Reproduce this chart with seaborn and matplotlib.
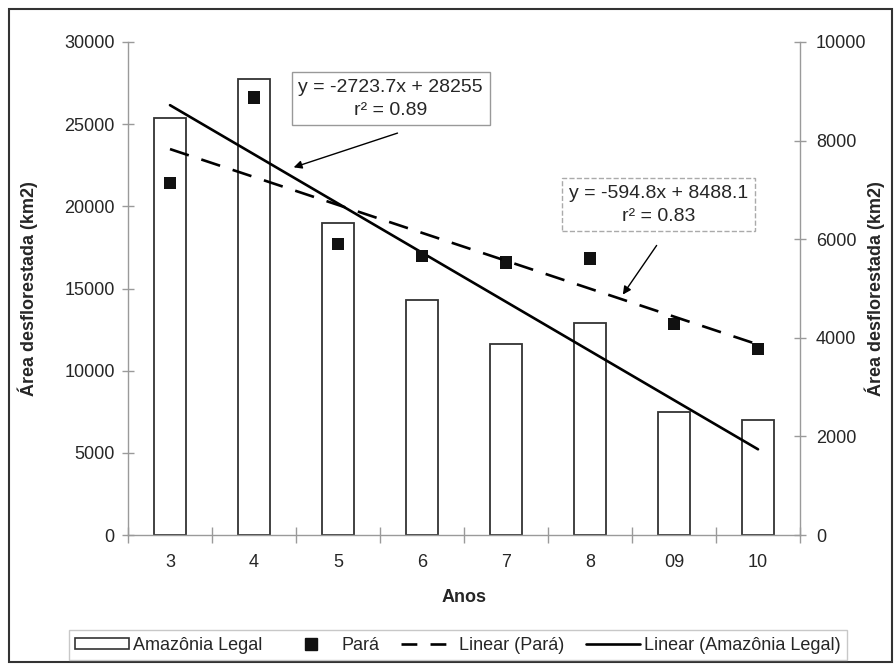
import matplotlib
matplotlib.use("Agg")
import matplotlib.pyplot as plt
import numpy as np
import seaborn as sns
from matplotlib.lines import Line2D
from matplotlib.patches import Patch, Rectangle

# Data
anos = ["3", "4", "5", "6", "7", "8", "09", "10"]
amazonia_legal = [25400, 27770, 19010, 14290, 11650, 12910, 7460, 7000]
para = [7145, 8870, 5900, 5660, 5530, 5610, 4280, 3770]

eq_amazonia = "y = -2723.7x + 28255\nr² = 0.89"
eq_para = "y = -594.8x + 8488.1\nr² = 0.83"

sns.set_style("white")
plt.rcParams["font.family"] = ["Liberation Sans", "DejaVu Sans"]

fig = plt.figure(figsize=(8.96, 6.68), dpi=100)
ax = fig.add_axes([128 / 896, 1 - 535 / 668, 672 / 896, 493 / 668])
ax2 = ax.twinx()

idx = np.arange(len(anos))
x_fit = idx + 1

# bars (left axis)
sns.barplot(x=anos, y=amazonia_legal, order=anos, color="white", edgecolor="#333333",
            linewidth=1.3, width=0.39, ax=ax)

# trend lines (least squares, as Excel trendlines)
fit_am = np.polyval(np.polyfit(x_fit, amazonia_legal, 1), x_fit)
fit_pa = np.polyval(np.polyfit(x_fit, para, 1), x_fit)
sns.lineplot(x=idx, y=fit_am, color="black", linewidth=1.9, ax=ax)
sns.lineplot(x=idx, y=fit_pa, color="black", linewidth=1.9, ax=ax2)
ax2.lines[-1].set_dashes((7.5, 5))

# Pará markers (right axis)
sns.scatterplot(x=idx, y=para, marker="s", s=80, color="#111111", edgecolor="none", ax=ax2)

ax.set_xlim(-0.5, len(anos) - 0.5)
ax.set_ylim(0, 30000)
ax.set_yticks(np.arange(0, 30001, 5000))
ax2.set_ylim(0, 10000)
ax2.set_yticks(np.arange(0, 10001, 2000))

for a in (ax, ax2):
    for s in a.spines.values():
        s.set_visible(False)
ax.spines["left"].set_visible(True)
ax.spines["bottom"].set_visible(True)
ax2.spines["right"].set_visible(True)
for s in (ax.spines["left"], ax.spines["bottom"], ax2.spines["right"]):
    s.set_color("#9a9a9a")
    s.set_linewidth(1.0)

ax.tick_params(axis="y", direction="inout", length=9, width=1, color="#9a9a9a",
               labelsize=13, pad=5, left=True)
ax2.tick_params(axis="y", direction="inout", length=9, width=1, color="#9a9a9a",
                labelsize=13, pad=7, right=True)
ax.set_xticks(idx)
ax.set_xticklabels(anos)
ax.set_xticks(np.arange(-0.5, len(anos), 1), minor=True)
ax.tick_params(axis="x", which="major", length=0, labelsize=13, pad=14)
ax.tick_params(axis="x", which="minor", direction="inout", length=12, width=1,
               color="#9a9a9a", bottom=True)

ax.set_xlabel("Anos", fontsize=13, fontweight="bold", labelpad=13)
ax.set_ylabel("Área desflorestada (km2)", fontsize=13, fontweight="bold")
ax2.set_ylabel("Área desflorestada (km2)", fontsize=13, fontweight="bold")
ax.yaxis.set_label_coords(-0.134, 0.5)
ax2.yaxis.set_label_coords(1.0967, 0.5)

# equation boxes with arrows
ax.text(0.391, 0.885, eq_amazonia, transform=ax.transAxes, ha="center", va="center",
        fontsize=14, linespacing=1.45,
        bbox=dict(boxstyle="square,pad=0.35", facecolor="white", edgecolor="#999999", lw=1))
ax.annotate("", xy=(0.2426, 0.744), xytext=(0.405, 0.817), xycoords="axes fraction",
            arrowprops=dict(arrowstyle="-|>", color="black", lw=1, mutation_scale=12))
ax2.text(0.789, 0.670, eq_para, transform=ax2.transAxes, ha="center", va="center",
         fontsize=14, linespacing=1.45,
         bbox=dict(boxstyle="square,pad=0.35", facecolor="white", edgecolor="#aaaaaa",
                   lw=1, linestyle="--"))
ax2.annotate("", xy=(0.734, 0.483), xytext=(0.789, 0.592), xycoords="axes fraction",
             arrowprops=dict(arrowstyle="-|>", color="black", lw=1, mutation_scale=12))

# legend
handles = [
    Patch(facecolor="white", edgecolor="#333333", linewidth=1.2),
    Line2D([], [], marker="s", color="#111111", linestyle="none", markersize=9),
    Line2D([], [], color="black", linewidth=1.9, dashes=(6, 5)),
    Line2D([], [], color="black", linewidth=1.9),
]
labels = ["Amazônia Legal", "Pará", "Linear (Pará)", "Linear (Amazônia Legal)"]
fig.legend(handles, labels, loc="center", bbox_to_anchor=(0.511, 0.034), ncol=4,
           fontsize=13, frameon=True, fancybox=False, edgecolor="#bbbbbb",
           handlelength=3.0, handleheight=0.6, handletextpad=0.2, columnspacing=1.2,
           borderpad=0.35)

# outer frame
fig.patches.append(Rectangle((9 / 896, 6 / 668), 883 / 896, 653 / 668,
                             transform=fig.transFigure, fill=False,
                             edgecolor="#333333", linewidth=1.5))

fig.savefig("out.png", dpi=100, facecolor="white")
